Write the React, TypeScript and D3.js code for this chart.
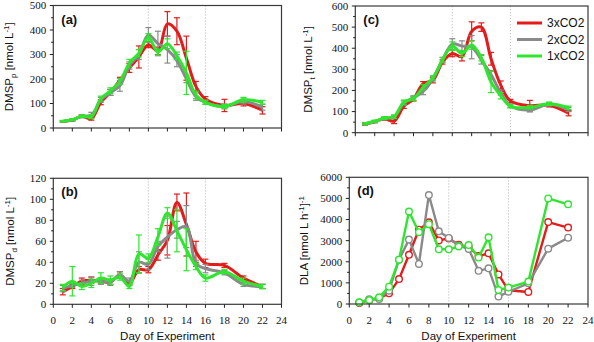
import React from 'react';
import * as d3 from 'd3';

const days = [1, 2, 3, 4, 5, 6, 7, 8, 9, 10, 11, 12, 13, 14, 15, 16, 18, 20, 22];
const seriesNames = ['3xCO2', '2xCO2', '1xCO2'];
const colors = ['#e31b1b', '#8a8a8a', '#2ee62e'];

// (a) DMSPp
const aRed = [27, 32, 48, 38, 105, 145, 195, 245, 290, 340, 315, 425, 395, 285, 170, 118, 92, 100, 72];
const aGray = [27, 33, 48, 52, 115, 145, 172, 255, 300, 380, 345, 320, 275, 200, 128, 105, 88, 108, 85];
const aGreen = [28, 34, 48, 46, 120, 152, 190, 265, 305, 370, 310, 344, 295, 225, 135, 105, 88, 115, 105];
const aRedErr = [3, 4, 5, 6, 10, 12, 12, 18, 45, 12, 15, 50, 55, 90, 20, 10, 25, 10, 15];
const aGrayErr = [3, 4, 6, 12, 10, 12, 22, 15, 20, 30, 50, 55, 25, 15, 15, 8, 10, 10, 12];
const aGreenErr = [3, 4, 5, 8, 10, 12, 12, 15, 15, 15, 12, 20, 15, 88, 15, 8, 8, 10, 8];

// (b) DMSPd
const bRed = [12, 17, 22, 23, 22, 21, 28, 20, 33, 33, 47, 61, 97, 76, 50, 39, 37, 25, 17];
const bGray = [15, 18, 20, 22, 22, 21, 28, 22, 40, 38, 55, 64, 71, 74, 39, 34, 30, 19, 17];
const bGreen = [16, 22, 17, 20, 25, 23, 26, 17, 48, 44, 64, 87, 70, 52, 36, 25, 31, 22, 17];
const bRedErr = [3, 2, 3, 3, 2, 2, 3, 2, 3, 3, 5, 14, 8, 30, 10, 4, 2, 2, 2];
const bGrayErr = [3, 2, 3, 4, 3, 3, 3, 3, 10, 5, 5, 20, 8, 20, 3, 4, 2, 2, 2];
const bGreenErr = [3, 14, 3, 4, 5, 4, 3, 2, 18, 4, 8, 5, 20, 20, 3, 3, 2, 3, 2];

// (c) DMSPt
const cRed = [40, 52, 66, 55, 125, 160, 232, 248, 335, 375, 360, 480, 500, 350, 225, 150, 128, 130, 92];
const cGray = [42, 53, 68, 75, 140, 165, 195, 255, 345, 420, 410, 405, 345, 275, 190, 128, 108, 135, 110];
const cGreen = [42, 54, 70, 76, 145, 162, 215, 260, 345, 410, 375, 415, 355, 240, 175, 125, 120, 137, 118];
const cRedErr = [5, 5, 6, 12, 10, 10, 10, 12, 10, 15, 20, 45, 20, 30, 20, 8, 25, 8, 12];
const cGrayErr = [5, 5, 6, 8, 10, 10, 15, 10, 12, 25, 25, 55, 20, 20, 12, 8, 10, 8, 10];
const cGreenErr = [5, 5, 6, 8, 10, 10, 12, 10, 10, 20, 15, 20, 15, 50, 15, 8, 8, 8, 8];

// (d) DLA
const dRed = [50, 190, 270, 505, 1180, 2330, 3520, 3870, 3010, 3100, 2800, 2700, 2270, 2400, 1400, 650, 570, 3880, 3620];
const dGray = [70, 230, 240, 630, 2100, 3050, 1900, 5160, 3440, 3130, 2760, 2610, 1570, 1690, 350, 580, 980, 2620, 3140];
const dGreen = [80, 190, 316, 820, 2100, 4380, 3400, 3780, 2590, 2590, 2720, 2790, 2200, 3160, 660, 780, 1060, 5000, 4720];

const xTicks = [0, 2, 4, 6, 8, 10, 12, 14, 16, 18, 20, 22, 24];
const refDays = [10, 16];

const SERIF = '"Liberation Serif", "Times New Roman", serif';
const SANS = '"Liberation Sans", Arial, sans-serif';

type PanelProps = {
  l: number; r: number; t: number; b: number;
  yMax: number; yStep: number;
  values: number[][]; errors?: number[][];
  label: string; showX: boolean; markers?: boolean;
};

function Panel({ l, r, t, b, yMax, yStep, values, errors, label, showX, markers }: PanelProps) {
  const x = d3.scaleLinear().domain([0, 24]).range([l, r]);
  const y = d3.scaleLinear().domain([0, yMax]).range([b, t]);
  const line = d3.line<number>()
    .x((_, i) => x(days[i]))
    .y((v) => y(v))
    .curve(markers ? d3.curveLinear : d3.curveCatmullRom.alpha(0.5));
  const majors = d3.range(0, yMax + 1e-9, yStep);
  const minors = d3.range(yStep / 2, yMax, yStep);
  return (
    <g>
      {refDays.map((d) => (
        <line key={d} x1={x(d)} x2={x(d)} y1={t} y2={b} stroke="#b8b8b8" strokeWidth={0.9} strokeDasharray="1.2,1.8" />
      ))}
      {values.map((vals, si) => (
        <g key={si}>
          {errors && errors[si].map((e, i) => {
            const cx = x(days[i]);
            return (
              <g key={i} stroke={colors[si]} strokeWidth={1.2}>
                <line x1={cx} x2={cx} y1={y(vals[i] - e)} y2={y(vals[i] + e)} />
                <line x1={cx - 3} x2={cx + 3} y1={y(vals[i] - e)} y2={y(vals[i] - e)} />
                <line x1={cx - 3} x2={cx + 3} y1={y(vals[i] + e)} y2={y(vals[i] + e)} />
              </g>
            );
          })}
          <path d={line(vals) || ''} fill="none" stroke={colors[si]} strokeWidth={markers ? 2.4 : 3} strokeLinejoin="round" />
          {markers && vals.map((v, i) => (
            <circle key={i} cx={x(days[i])} cy={y(v)} r={3.3} fill="white" stroke={colors[si]} strokeWidth={1.4} />
          ))}
        </g>
      ))}
      <rect x={l} y={t} width={r - l} height={b - t} fill="none" stroke="#3a3a3a" strokeWidth={1.2} />
      {majors.map((v) => (
        <g key={'M' + v}>
          <line x1={l - 3.5} x2={l} y1={y(v)} y2={y(v)} stroke="#222" strokeWidth={1} />
          <text x={l - 7} y={y(v)} dy="0.35em" textAnchor="end" fontFamily={SERIF} fontSize={11} fill="#111">{v}</text>
        </g>
      ))}
      {minors.map((v) => (
        <line key={'m' + v} x1={l - 2.2} x2={l} y1={y(v)} y2={y(v)} stroke="#222" strokeWidth={1} />
      ))}
      {xTicks.map((d) => (
        <g key={'x' + d}>
          <line x1={x(d)} x2={x(d)} y1={b} y2={b + 3.5} stroke="#222" strokeWidth={1} />
          {showX && (
            <text x={x(d)} y={b + 20} textAnchor="middle" fontFamily={SERIF} fontSize={11} fill="#111">{d}</text>
          )}
        </g>
      ))}
      {showX && (
        <text x={(l + r) / 2} y={b + 36} textAnchor="middle" fontFamily={SANS} fontSize={11.5} fill="#111">Day of Experiment</text>
      )}
      <text x={l + 8} y={t + 18} fontFamily={SANS} fontWeight="bold" fontSize={13} fill="#111">{label}</text>
    </g>
  );
}

function YTitle({ x, cy, main, sub, rest, sups }: { x: number; cy: number; main: string; sub?: string; rest: string[]; sups: string[] }) {
  return (
    <text transform={`translate(${x},${cy}) rotate(-90)`} textAnchor="middle" fontFamily={SANS} fontSize={11.5} fill="#111">
      {main}
      {sub && <tspan fontSize={8} dy={3}>{sub}</tspan>}
      {rest.map((s, i) => (
        <React.Fragment key={i}>
          <tspan fontSize={11.5} dy={i === 0 ? (sub ? -3 : 0) : 4}>{s}</tspan>
          {sups[i] && <tspan fontSize={8} dy={-4}>{sups[i]}</tspan>}
        </React.Fragment>
      ))}
    </text>
  );
}

export default function App() {
  const A = { l: 53.3, r: 281.5, t: 5.5, b: 128 };
  const B = { l: 53.3, r: 281.5, t: 178.3, b: 304.3 };
  const C = { l: 355.3, r: 588, t: 6, b: 132.7 };
  const D = { l: 349.3, r: 588, t: 177.3, b: 304 };
  return (
    <svg width={594} height={342} style={{ position: 'absolute', left: 0, top: 0, background: 'white' }}>
      <Panel {...A} yMax={500} yStep={100} values={[aRed, aGray, aGreen]} errors={[aRedErr, aGrayErr, aGreenErr]} label="(a)" showX={false} />
      <Panel {...B} yMax={120} yStep={20} values={[bRed, bGray, bGreen]} errors={[bRedErr, bGrayErr, bGreenErr]} label="(b)" showX={true} />
      <Panel {...C} yMax={600} yStep={100} values={[cRed, cGray, cGreen]} errors={[cRedErr, cGrayErr, cGreenErr]} label="(c)" showX={false} />
      <Panel {...D} yMax={6000} yStep={1000} values={[dRed, dGray, dGreen]} label="(d)" showX={true} markers />
      <YTitle x={13} cy={(A.t + A.b) / 2} main="DMSP" sub="p" rest={[' [nmol L', ']']} sups={['-1', '']} />
      <YTitle x={14} cy={(B.t + B.b) / 2} main="DMSP" sub="d" rest={[' [nmol L', ']']} sups={['-1', '']} />
      <YTitle x={312} cy={(C.t + C.b) / 2} main="DMSP" sub="t" rest={[' [nmol L', ']']} sups={['-1', '']} />
      <YTitle x={308} cy={(D.t + D.b) / 2} main="DLA [nmol L" rest={[' h', ']']} sups={['-1', '-1']} />
      {seriesNames.map((n, i) => (
        <g key={n}>
          <line x1={517} x2={542} y1={23 + i * 16.5} y2={23 + i * 16.5} stroke={colors[i]} strokeWidth={3} />
          <text x={547} y={23 + i * 16.5} dy="0.35em" fontFamily={SANS} fontSize={12} fill="#111">{n}</text>
        </g>
      ))}
    </svg>
  );
}
